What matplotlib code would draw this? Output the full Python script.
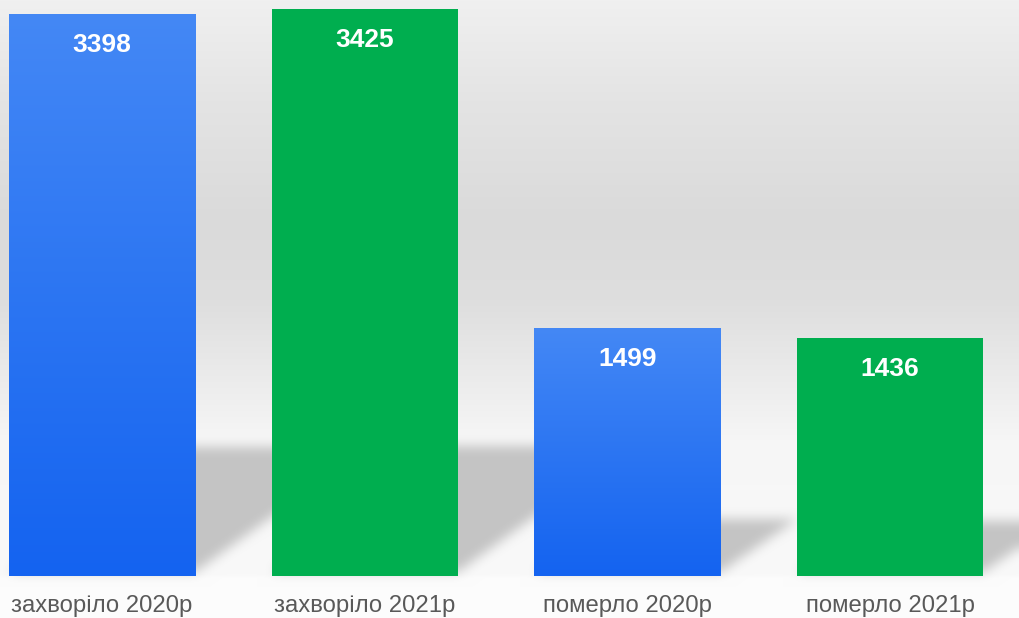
import numpy as np
import matplotlib
matplotlib.use("Agg")
import matplotlib.pyplot as plt
from matplotlib.path import Path

categories = ["захворіло 2020р", "захворіло 2021р", "померло 2020р", "померло 2021р"]
values = [3398, 3425, 1499, 1436]
years = ["2020", "2021", "2020", "2021"]

plt.rcParams['font.family'] = ['Liberation Sans', 'DejaVu Sans']

W, H = 1020, 618
fig = plt.figure(figsize=(W / 100, H / 100), dpi=100)
bg = fig.add_axes([0, 0, 1, 1], zorder=0)
bg.set_axis_off()
ax = fig.add_axes([0, 42 / H, 1, 576 / H], zorder=1)
ax.patch.set_alpha(0)

x = np.arange(len(values))
width = 0.708
XLIM = (-0.388, 3.494)
YLIM = (0, 3480)
ax.set_xlim(*XLIM)
ax.set_ylim(*YLIM)

# ---- background: vertical gradient + soft cast shadows derived from bars ----
rows = np.arange(H)
grad = np.interp(rows, [0, 100, 220, 300, 440, 574, 578, 618],
                 [240, 228, 218, 222, 246, 249, 252, 252])
img = np.repeat(grad[:, None], W, axis=1).astype(float)

yy, xx = np.mgrid[0:H, 0:W]
pts = np.column_stack([xx.ravel() + 0.5, (H - yy.ravel() - 0.5)])
mask = np.zeros(H * W)
k_h, k_s = 0.23, 0.31
for xi, v in zip(x, values):
    (xl, y0) = ax.transData.transform((xi - width / 2, 0))
    (xr, y1) = ax.transData.transform((xi + width / 2, v))
    hpx = y1 - y0
    poly = Path([(xl, y0 + 4), (xr, y0 + 4), (xr + k_s * hpx, y0 + k_h * hpx),
                 (xl + k_s * hpx, y0 + k_h * hpx), (xl, y0 + 4)])
    mask = np.maximum(mask, poly.contains_points(pts).astype(float))
mask = mask.reshape(H, W)


def box(a, r, axis):
    ker = np.ones(2 * r + 1) / (2 * r + 1)
    return np.apply_along_axis(lambda m: np.convolve(np.pad(m, r, mode='edge'), ker, mode='valid'), axis, a)


for _ in range(3):
    mask = box(mask, 5, 0)
    mask = box(mask, 5, 1)

img = img * (1 - mask) + 196 * mask
rgb = np.dstack([img, img, img]) / 255.0
bg.imshow(rgb, extent=[0, W, 0, H], origin='upper', aspect='auto')
bg.set_xlim(0, W)
bg.set_ylim(0, H)

# ---- bars ----
blue_top = np.array([0x44, 0x88, 0xf5]) / 255
blue_bot = np.array([0x14, 0x63, 0xf0]) / 255
green = '#00ae4f'
colors = ['#2a75f2' if y == '2020' else green for y in years]
bars = ax.bar(x, values, width, color=colors, zorder=2, linewidth=0)
t = np.linspace(0, 1, 256)[:, None]
gimg = (blue_top[None, :] * (1 - t) + blue_bot[None, :] * t)[:, None, :]
for b, y, xi, v in zip(bars, years, x, values):
    if y == '2020':
        im = ax.imshow(gimg, extent=[xi - width / 2, xi + width / 2, 0, v],
                       origin='upper', aspect='auto', zorder=3)
        im.set_clip_path(b)
ax.set_xlim(*XLIM)
ax.set_ylim(*YLIM)

for xi, v in zip(x, values):
    ax.annotate(str(v), (xi, v), xytext=(0, -31), textcoords='offset pixels',
                ha='center', va='center', color='white', fontsize=19,
                fontweight='bold', zorder=5)

ax.set_xticks(x, categories)
ax.tick_params(axis='x', length=0, pad=14, labelsize=17.2, labelcolor='#595959')
ax.set_yticks([])
for s in ax.spines.values():
    s.set_visible(False)

fig.savefig('out.png', dpi=100)
